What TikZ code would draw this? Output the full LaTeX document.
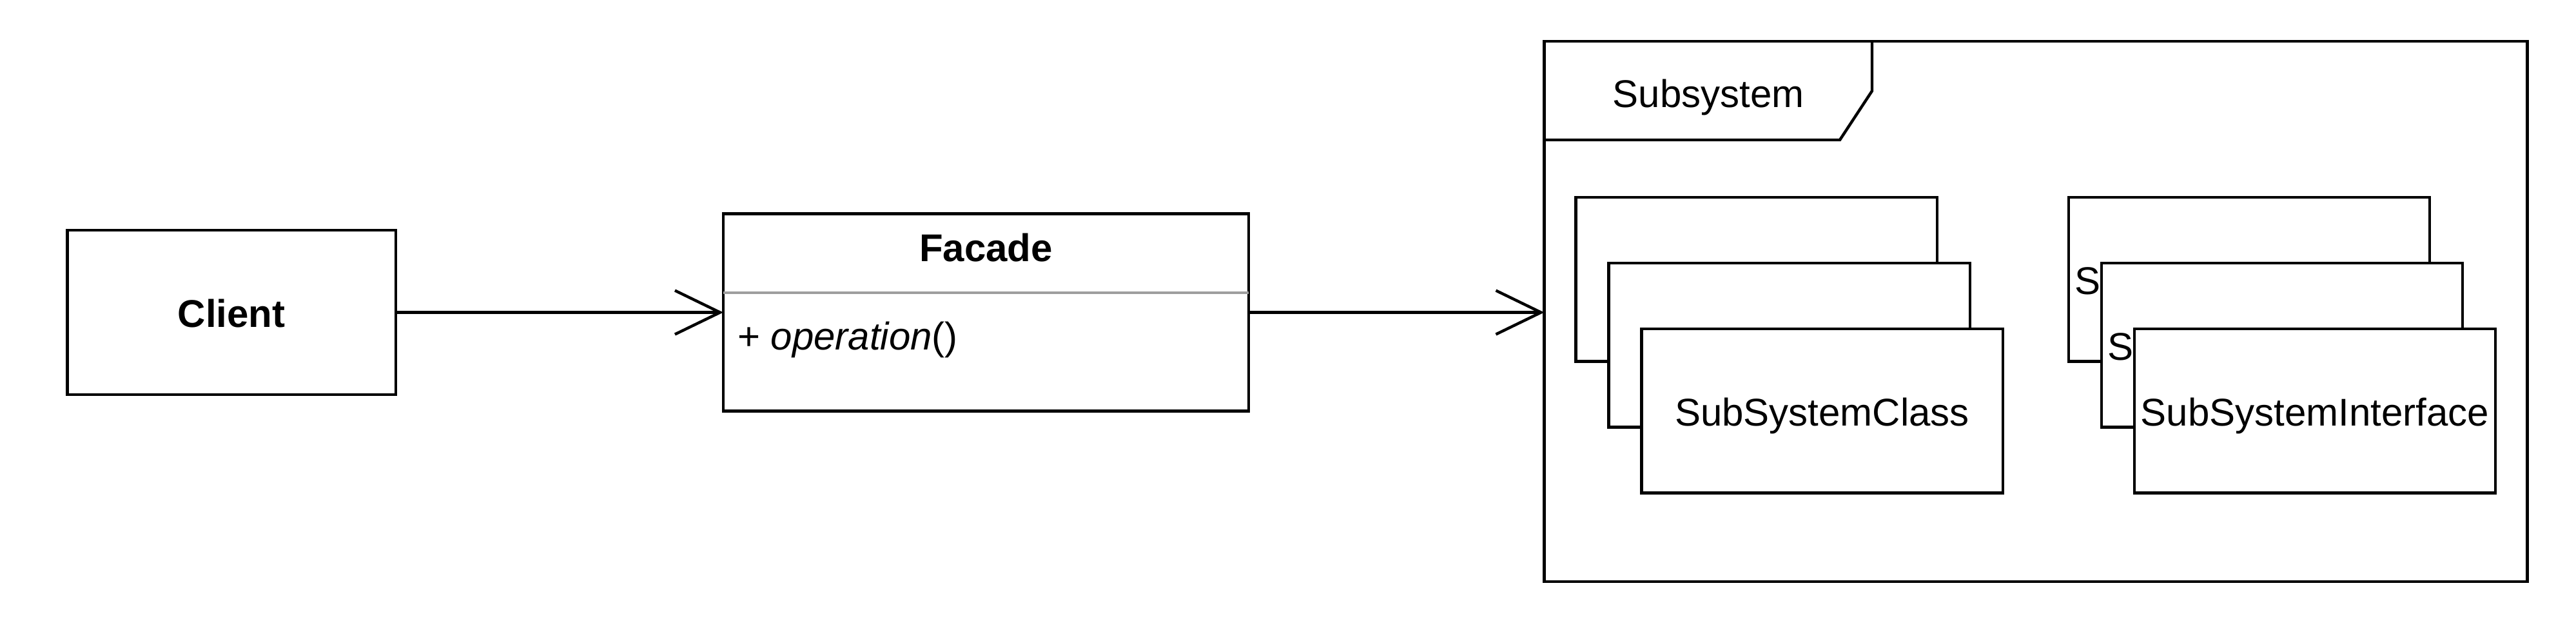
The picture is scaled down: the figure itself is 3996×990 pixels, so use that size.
\documentclass[tikz,border=0pt]{standalone}
\usepackage{fontspec}
\setmainfont{Liberation Sans}
\usetikzlibrary{arrows.meta,calc}
\definecolor{sepgray}{RGB}{158,158,158}
\begin{document}
\begin{tikzpicture}[x=0.25pt,y=-0.25pt,
  every node/.style={font=\fontsize{15}{18}\selectfont, inner sep=0pt, outer sep=0pt, text height=14.4pt, text depth=3pt},
  umlbox/.style={draw, line width=1.1pt, fill=white},
  stackbox/.style={umlbox, minimum width=140.1pt, minimum height=63.6pt},
  conn/.style={line width=1.1pt, -{Straight Barb[length=17.5pt,width=17pt,line width=1.1pt]}}
]
\useasboundingbox (0,0) rectangle (3996,990);

% Client
\node[umlbox, minimum width=127.4pt, minimum height=63.75pt, font=\fontsize{15}{18}\selectfont\bfseries] (client) at (359.25,484.5) {Client};

% Facade class
\node[umlbox, minimum width=203.75pt, minimum height=76.5pt] (facade) at (1529.5,484.5) {};
\draw[sepgray, line width=1.1pt] ($(facade.north west)+(0,122.5)$) -- ($(facade.north east)+(0,122.5)$);
\node[font=\fontsize{15}{18}\selectfont\bfseries] (facadetitle) at ($(facade.north)+(0,51.5)$) {Facade};
\node[anchor=west] (op) at ($(facade.west)+(22,35.5)$) {+ \textit{operation}()};

% Subsystem frame
\node[draw, line width=1.1pt, minimum width=381.25pt, minimum height=209.5pt] (frame) at (3158,483) {};
\draw[line width=1.1pt, line join=miter] ($(frame.north west)+(0,153)$) -- ($(frame.north west)+(458.5,153)$) -- ($(frame.north west)+(508.5,77)$) -- ($(frame.north west)+(508.5,0)$);
\node (sublabel) at (2650,144) {Subsystem};

% left stack
\node[stackbox] (c1) at (2724.5,433.3) {SubSystemClass};
\node[stackbox] (c2) at (2775.5,535.3) {SubSystemClass};
\node[stackbox] (c3) at (2826.5,637.2) {SubSystemClass};

% right stack
\node[stackbox] (i1) at (3489,433.3) {SubSystemInterface};
\node[stackbox] (i2) at (3540,535.3) {SubSystemInterface};
\node[stackbox] (i3) at (3591,637.2) {SubSystemInterface};

% connectors
\draw[conn] (client.east) -- (facade.west);
\draw[conn] (facade.east) -- (facade.east -| frame.west);
\end{tikzpicture}
\end{document}
